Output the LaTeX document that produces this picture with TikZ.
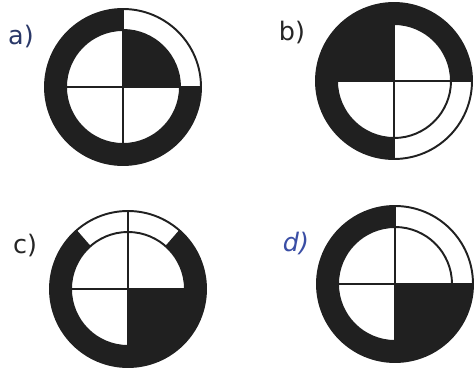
\documentclass[tikz,border=0pt]{standalone}
\usepackage{fontspec}
\setmainfont{DejaVu Sans}
\usepackage{tikz}
\usetikzlibrary{positioning}
\definecolor{ink}{RGB}{32, 32, 32}
\definecolor{penblue}{RGB}{42, 56, 104}
\definecolor{handblue}{RGB}{58, 78, 165}
\definecolor{pengray}{RGB}{38, 38, 38}

% ring piece and inner quarter, both around (0,0)
\newcommand{\ringseg}[2]{\fill[ink] (#1:78) arc[start angle=#1, end angle=#2, radius=78] -- (#2:57) arc[start angle=#2, end angle=#1, radius=57] -- cycle;}
\newcommand{\innerseg}[2]{\fill[ink] (0,0) -- (#1:57) arc[start angle=#1, end angle=#2, radius=57] -- cycle;}
\newcommand{\discoutline}{\draw[disc] (0,0) circle[radius=78] (0,0) circle[radius=57] (-78,0) -- (78,0) (0,-78) -- (0,78);}

\begin{document}
\begin{tikzpicture}[
  x=0.02cm, y=0.02cm,
  disc/.style={draw=ink, line width=1.1pt},
  tag/.style={font=\fontsize{14.5}{16}\selectfont, inner sep=0pt}
]
  \useasboundingbox[fill=white] (0,0) rectangle (474,369);

  % a)
  \begin{scope}[shift={(123,282)}]
    \ringseg{90}{360}
    \innerseg{0}{90}
    \discoutline
  \end{scope}
  \node[tag, text=penblue] (lab-a) at (21,332) {a)};

  % b)
  \begin{scope}[shift={(394,288)}]
    \ringseg{0}{270}
    \innerseg{90}{180}
    \discoutline
  \end{scope}
  \node[tag, text=pengray] (lab-b) at (292,336) {b)};

  % c)
  \begin{scope}[shift={(128,80)}]
    \ringseg{131}{409}
    \innerseg{270}{360}
    \discoutline
  \end{scope}
  \node[tag, text=pengray] (lab-c) at (25,123) {c)};

  % d)
  \begin{scope}[shift={(395,85)}]
    \ringseg{90}{360}
    \innerseg{270}{360}
    \discoutline
  \end{scope}
  \node[tag, text=handblue, font=\fontsize{14.5}{16}\selectfont\itshape] (lab-d) at (296,125) {d)};
\end{tikzpicture}
\end{document}
